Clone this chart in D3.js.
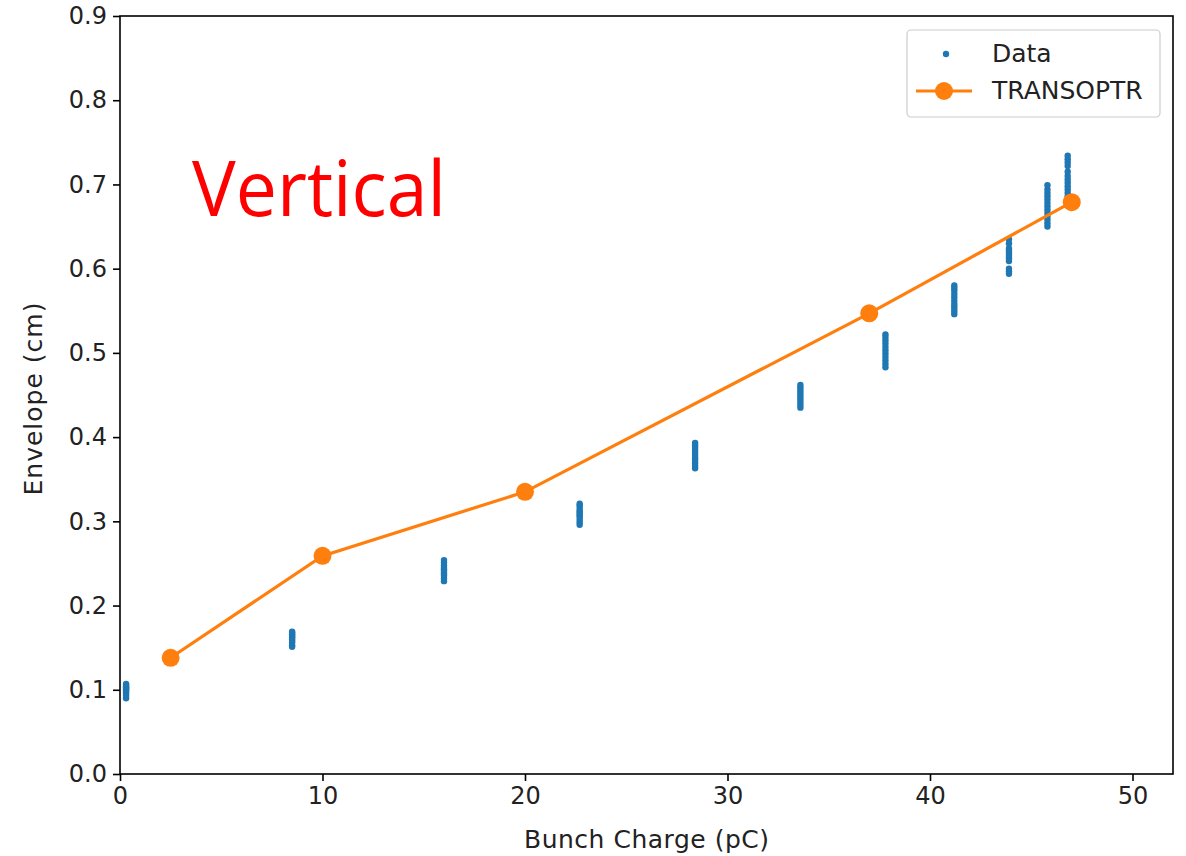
<!DOCTYPE html>
<html>
<head>
<meta charset="utf-8">
<script src="https://cdn.jsdelivr.net/npm/d3@7"></script>
<style>
  body { margin: 0; background: #fff; }
  svg { display: block; }
</style>
</head>
<body>
<svg id="chart" width="1186" height="856"></svg>
<script>
// measured data, one entry per bunch charge setting
const dataCharge = [0.3, 8.5, 16.0, 22.7, 28.4, 33.6, 37.8, 41.2, 43.9, 45.8, 46.8];
const dataEnvelope = [
  [0.090, 0.093, 0.095, 0.097, 0.099, 0.100, 0.101, 0.102, 0.103, 0.104, 0.106, 0.107],
  [0.151, 0.153, 0.156, 0.158, 0.160, 0.162, 0.163, 0.165, 0.166, 0.168, 0.169],
  [0.229, 0.232, 0.235, 0.237, 0.239, 0.241, 0.243, 0.245, 0.248, 0.251, 0.254],
  [0.296, 0.299, 0.302, 0.305, 0.307, 0.309, 0.311, 0.313, 0.316, 0.319, 0.321],
  [0.363, 0.366, 0.369, 0.372, 0.375, 0.378, 0.381, 0.384, 0.387, 0.390, 0.393],
  [0.435, 0.438, 0.441, 0.444, 0.447, 0.450, 0.453, 0.456, 0.459, 0.462],
  [0.483, 0.487, 0.491, 0.495, 0.499, 0.503, 0.507, 0.511, 0.515, 0.519, 0.522],
  [0.546, 0.549, 0.552, 0.555, 0.558, 0.562, 0.566, 0.570, 0.574, 0.577, 0.580],
  [0.594, 0.597, 0.600, 0.609, 0.612, 0.615, 0.618, 0.621, 0.624, 0.630, 0.635],
  [0.650, 0.654, 0.658, 0.662, 0.666, 0.670, 0.674, 0.678, 0.682, 0.686, 0.690, 0.694, 0.699],
  [0.686, 0.690, 0.694, 0.698, 0.702, 0.706, 0.710, 0.715, 0.722, 0.726, 0.730, 0.734]
];

// TRANSOPTR model curve
const modelCharge = [2.5, 10, 20, 37, 47];
const modelEnvelope = [0.138, 0.259, 0.335, 0.547, 0.679];

const xTicks = [0, 10, 20, 30, 40, 50];
const yTicks = [0, 0.1, 0.2, 0.3, 0.4, 0.5, 0.6, 0.7, 0.8, 0.9];

const BLUE = "#1f77b4";
const ORANGE = "#ff7f0e";
const FONT = "DejaVu Sans, sans-serif";

const box = { left: 120, top: 16, right: 1173, bottom: 774 };

const svg = d3.select("#chart");

const x = d3.scaleLinear().domain([0, 52]).range([box.left, box.right]);
const y = d3.scaleLinear().domain([0, 0.9]).range([box.bottom, box.top]);

// flatten the scatter
const points = [];
dataCharge.forEach((c, i) => {
  dataEnvelope[i].forEach(v => points.push({ c, v }));
});

svg.append("g")
  .selectAll("circle")
  .data(points)
  .join("circle")
  .attr("cx", d => x(d.c))
  .attr("cy", d => y(d.v))
  .attr("r", 3.2)
  .attr("fill", BLUE);

const model = modelCharge.map((c, i) => ({ c, v: modelEnvelope[i] }));

svg.append("path")
  .datum(model)
  .attr("fill", "none")
  .attr("stroke", ORANGE)
  .attr("stroke-width", 3.2)
  .attr("d", d3.line().x(d => x(d.c)).y(d => y(d.v)));

svg.append("g")
  .selectAll("circle")
  .data(model)
  .join("circle")
  .attr("cx", d => x(d.c))
  .attr("cy", d => y(d.v))
  .attr("r", 9)
  .attr("fill", ORANGE);

// axes
const xAxis = svg.append("g")
  .attr("transform", `translate(0,${box.bottom})`)
  .call(d3.axisBottom(x).tickValues(xTicks).tickFormat(d3.format("d")).tickSizeOuter(0).tickSize(7).tickPadding(6));

const yAxis = svg.append("g")
  .attr("transform", `translate(${box.left},0)`)
  .call(d3.axisLeft(y).tickValues(yTicks).tickFormat(d3.format(".1f")).tickSizeOuter(0).tickSize(7).tickPadding(6));

[xAxis, yAxis].forEach(g => {
  g.select(".domain").remove();
  g.selectAll(".tick line").attr("stroke", "#000").attr("stroke-width", 1.6);
  g.selectAll(".tick text")
    .attr("font-family", FONT)
    .attr("font-size", 24)
    .attr("fill", "#222");
});

// frame
svg.append("rect")
  .attr("x", box.left)
  .attr("y", box.top)
  .attr("width", box.right - box.left)
  .attr("height", box.bottom - box.top)
  .attr("fill", "none")
  .attr("stroke", "#000")
  .attr("stroke-width", 1.6);

// axis labels
svg.append("text")
  .attr("x", (box.left + box.right) / 2)
  .attr("y", 848)
  .attr("text-anchor", "middle")
  .attr("font-family", FONT)
  .attr("font-size", 25)
  .attr("fill", "#222")
  .attr("textLength", 245)
  .text("Bunch Charge (pC)");

svg.append("text")
  .attr("transform", `translate(42,${(box.top + box.bottom) / 2 + 4}) rotate(-90)`)
  .attr("text-anchor", "middle")
  .attr("font-family", FONT)
  .attr("font-size", 25)
  .attr("fill", "#222")
  .attr("textLength", 193)
  .text("Envelope (cm)");

// annotation
svg.append("text")
  .attr("x", 192)
  .attr("y", 216)
  .attr("font-family", "Open Sans, sans-serif")
  .attr("font-size", 76)
  .attr("fill", "#ff0000")
  .attr("textLength", 254)
  .attr("lengthAdjust", "spacingAndGlyphs")
  .text("Vertical");

// legend
const legend = svg.append("g");
legend.append("rect")
  .attr("x", 907)
  .attr("y", 30)
  .attr("width", 253)
  .attr("height", 87)
  .attr("rx", 4)
  .attr("fill", "#fff")
  .attr("fill-opacity", 0.8)
  .attr("stroke", "#ccc")
  .attr("stroke-width", 1.2);

legend.append("circle")
  .attr("cx", 946)
  .attr("cy", 54)
  .attr("r", 3.2)
  .attr("fill", BLUE);

legend.append("line")
  .attr("x1", 916).attr("x2", 972)
  .attr("y1", 91).attr("y2", 91)
  .attr("stroke", ORANGE)
  .attr("stroke-width", 3.2);

legend.append("circle")
  .attr("cx", 944)
  .attr("cy", 91)
  .attr("r", 9)
  .attr("fill", ORANGE);

legend.selectAll("text.lbl")
  .data(["Data", "TRANSOPTR"])
  .join("text")
  .attr("class", "lbl")
  .attr("x", 992)
  .attr("y", (d, i) => 62 + i * 37)
  .attr("font-family", FONT)
  .attr("font-size", 25)
  .attr("fill", "#222")
  .text(d => d);
</script>
</body>
</html>
